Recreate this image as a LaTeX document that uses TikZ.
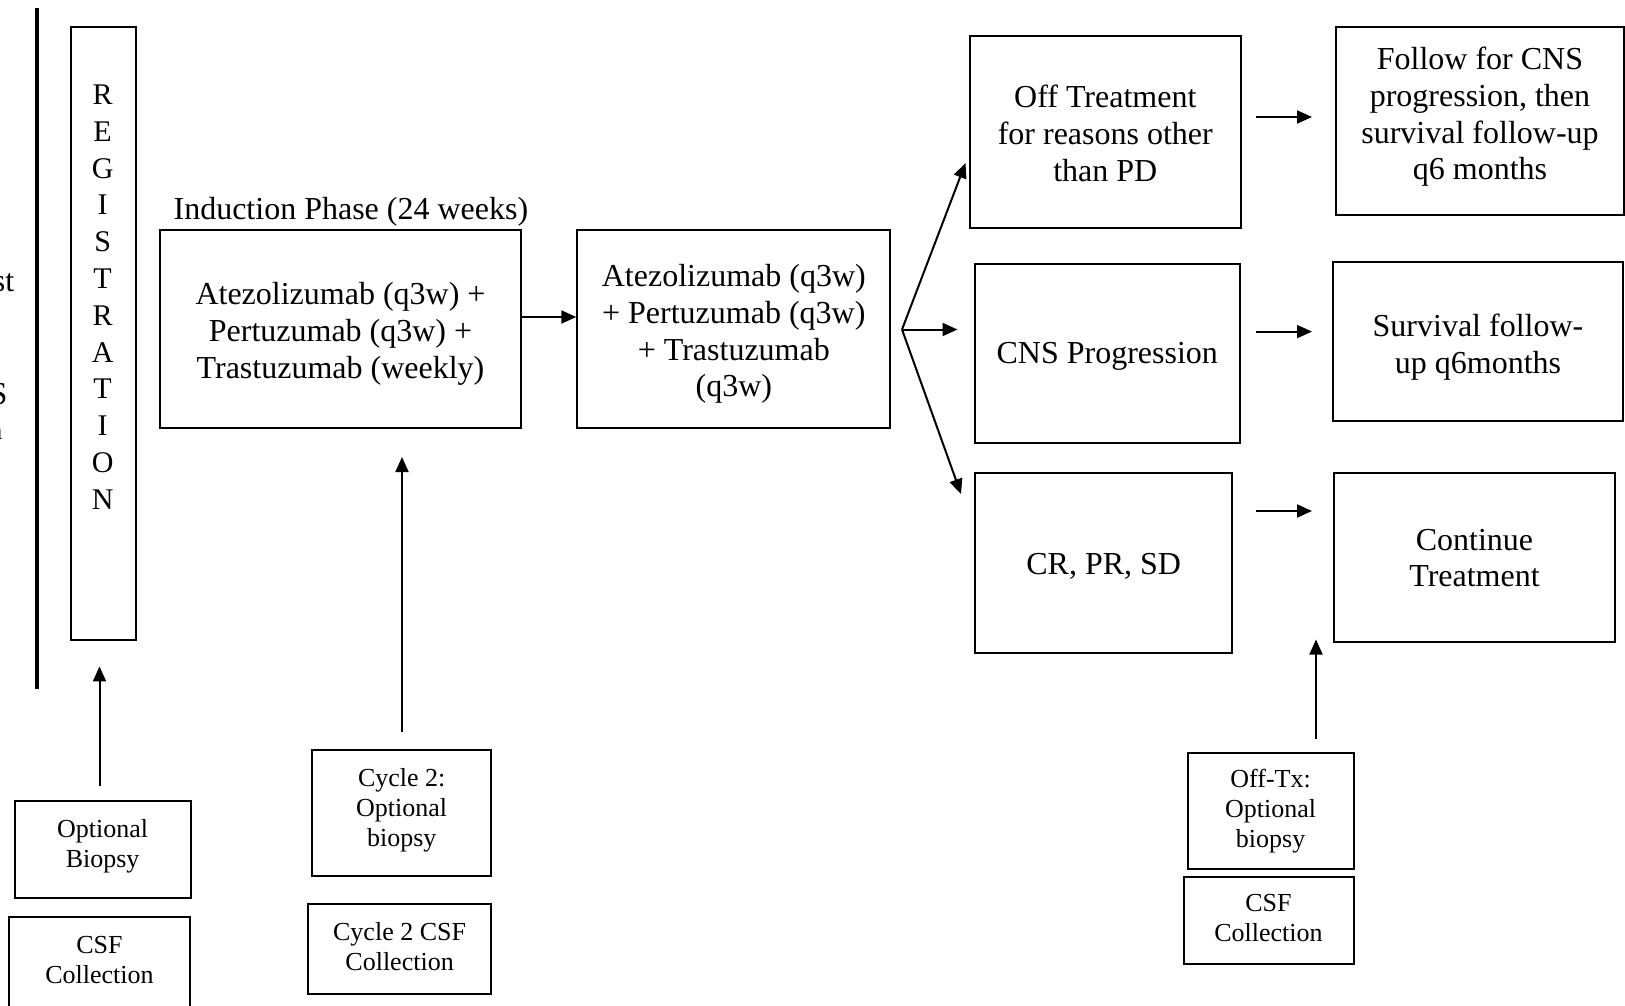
\documentclass[tikz,border=0pt]{standalone}
\usepackage{fontspec}
\setmainfont{Liberation Serif}
\usetikzlibrary{arrows.meta}
\begin{document}
\begin{tikzpicture}[x=1pt,y=-1pt,
  frame/.style={draw, line width=2pt, inner sep=0pt},
  tbig/.style={inner sep=0pt, align=center, font=\fontsize{32}{36.8}\selectfont},
  tsmall/.style={inner sep=0pt, align=center, font=\fontsize{26}{30}\selectfont},
  arr/.style={line width=2pt, -{Triangle[length=15pt,width=13pt]}}
]
\useasboundingbox (0,0) rectangle (1625,1005);
\clip (0,0) rectangle (1625,1005);

% cut-off texts at left edge
\node[tbig, anchor=east] (cut1) at (14.5,283) {st};
\node[tbig, anchor=east] (cut2) at (7.5,394) {S};
\node[tsmall, anchor=east] (cut3) at (2.5,433) {n};

% thick vertical line
\coordinate (vl1) at (37.3,8);
\coordinate (vl2) at (37.3,689);
\draw[line width=4pt] (vl1) -- (vl2);

% registration
\node[frame, minimum width=65.3pt, minimum height=612.5pt] (reg) at (103.15,333.25) {};
\node[inner sep=0pt, align=center, font=\fontsize{30}{36.8}\selectfont] (regt) at (102.6,297) {R\\E\\G\\I\\S\\T\\R\\A\\T\\I\\O\\N};

\node[frame, minimum width=176.2pt, minimum height=96.5pt] (ob) at (102.6,849.25) {};
\node[tsmall] (obt) at ([yshift=3pt]ob.center) {Optional\\Biopsy};
\node[frame, minimum width=180.4pt, minimum height=95pt] (csf1) at (99.5,964.5) {};
\node[tsmall] (csf1t) at ([yshift=4pt]csf1.center) {CSF\\Collection};

% induction
\node[tbig] (indlbl) at (350.9,212) {Induction Phase (24 weeks)};
\node[frame, minimum width=361.7pt, minimum height=198pt] (ind) at (340.5,329) {};
\node[tbig] (indt) at ([yshift=-5pt]ind.center) {Atezolizumab (q3w) +\\Pertuzumab (q3w) +\\Trastuzumab (weekly)};
\node[frame, minimum width=313pt, minimum height=198pt] (box2) at (733.8,329) {};
\node[tbig] (box2t) at ([yshift=-5pt]box2.center) {Atezolizumab (q3w)\\+ Pertuzumab (q3w)\\+ Trastuzumab\\(q3w)};

\node[frame, minimum width=179.3pt, minimum height=125.4pt] (c2b) at (401.7,813.1) {};
\node[tsmall] (c2bt) at ([yshift=3pt]c2b.center) {Cycle 2:\\Optional\\biopsy};
\node[frame, minimum width=183.5pt, minimum height=90.3pt] (c2csf) at (399.6,948.9) {};
\node[tsmall] (c2csft) at ([yshift=2pt]c2csf.center) {Cycle 2 CSF\\Collection};

% outcomes
\node[frame, minimum width=270.6pt, minimum height=191.7pt] (off) at (1105.3,132.2) {};
\node[tbig] (offt) at ([yshift=-1pt]off.center) {Off Treatment\\for reasons other\\than PD};
\node[frame, minimum width=264.5pt, minimum height=178.2pt] (cns) at (1107.3,353.4) {};
\node[tbig] (cnst) at ([yshift=-3pt]cns.center) {CNS Progression};
\node[frame, minimum width=257.3pt, minimum height=180.4pt] (cr) at (1103.7,562.8) {};
\node[tbig] (crt) at ([yshift=-4pt]cr.center) {CR, PR, SD};

\node[frame, minimum width=288pt, minimum height=187.5pt] (fol) at (1480,120.8) {};
\node[tbig] (folt) at ([yshift=4pt]fol.center) {Follow for CNS\\progression, then\\survival follow-up\\q6 months};
\node[frame, minimum width=290pt, minimum height=159pt] (surv) at (1478,341.5) {};
\node[tbig] (survt) at ([yshift=-6pt]surv.center) {Survival follow-\\up q6months};
\node[frame, minimum width=281pt, minimum height=169pt] (cont) at (1474.5,557) {};
\node[tbig] (contt) at ([yshift=-1pt]cont.center) {Continue\\Treatment};

\node[frame, minimum width=165.8pt, minimum height=116pt] (offtx) at (1270.6,810.5) {};
\node[tsmall] (offtxt) at ([yshift=-1pt]offtx.center) {Off-Tx:\\Optional\\biopsy};
\node[frame, minimum width=170pt, minimum height=87pt] (csf3) at (1268.5,920.5) {};
\node[tsmall] (csf3t) at ([yshift=2pt]csf3.center) {CSF\\Collection};

% connectors
\draw[arr] ([yshift=12pt]ind.east) -- ([yshift=12pt]box2.west);

\coordinate (br) at (902,329.5);
\coordinate (brA) at (965.5,163);
\coordinate (brB) at (957.5,329.5);
\coordinate (brC) at (961,494);
\draw[arr] (br) -- (brA);
\draw[arr] (br) -- (brB);
\draw[arr] (br) -- (brC);

\coordinate (h1s) at (1256,117);   \coordinate (h1e) at (1312,117);
\coordinate (h2s) at (1256,331.6); \coordinate (h2e) at (1312,331.6);
\coordinate (h3s) at (1256,511);   \coordinate (h3e) at (1312,511);
\draw[arr] (h1s) -- (h1e);
\draw[arr] (h2s) -- (h2e);
\draw[arr] (h3s) -- (h3e);

\coordinate (v1s) at (99.5,785.6); \coordinate (v1e) at (99.5,666.4);
\coordinate (v2s) at (402,731.7);  \coordinate (v2e) at (402,457);
\coordinate (v3s) at (1316,739);   \coordinate (v3e) at (1316,639.5);
\draw[arr] (v1s) -- (v1e);
\draw[arr] (v2s) -- (v2e);
\draw[arr] (v3s) -- (v3e);
\end{tikzpicture}
\end{document}
